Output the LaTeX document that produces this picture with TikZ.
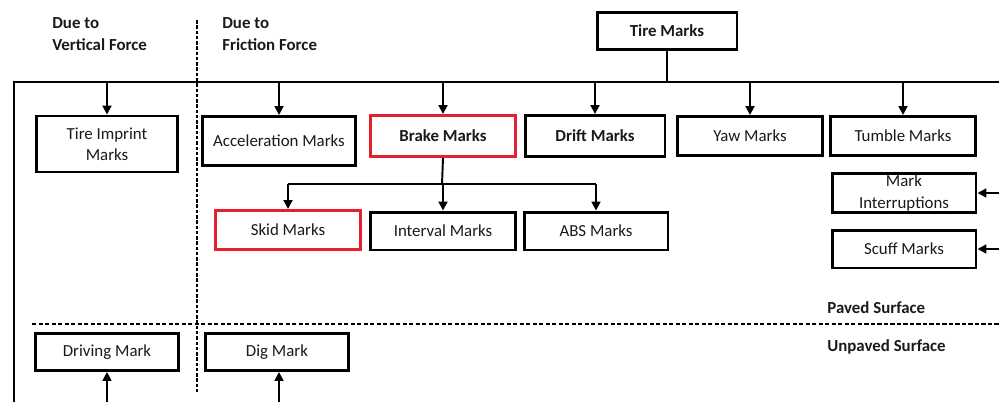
\documentclass[tikz,border=0pt]{standalone}
\usepackage{fontspec}
\setmainfont{Carlito}
\usepackage{tikz}
\usetikzlibrary{positioning, arrows.meta}
\definecolor{markRed}{HTML}{E3202B}
\definecolor{inkGray}{HTML}{1A1A1A}

\begin{document}
\begin{tikzpicture}[x=0.02cm, y=-0.02cm,
  font=\fontsize{9.6}{12}\selectfont, text=inkGray,
  markbox/.style={draw=black, line width=1.7pt, fill=white, inner sep=0pt,
    minimum width=2.88cm, minimum height=0.78cm, align=center},
  redbox/.style={markbox, draw=markRed},
  arr/.style={-{Triangle[length=5pt, width=5pt]}, line width=1.1pt},
  bus/.style={line width=1.1pt},
  sidenote/.style={anchor=west, inner sep=0pt, align=left, font=\fontsize{9.6}{12.5}\selectfont\bfseries}
]
\useasboundingbox (0,0) rectangle (999,402);

% column headings and dividers
\node[sidenote] (vert) at (52,34) {Due to\\Vertical Force};
\node[sidenote] (fric) at (222,34) {Due to\\Friction Force};
\draw[line width=0.8pt, dash pattern=on 2pt off 1pt] (197,20) -- (197,392);
\draw[line width=0.8pt, dash pattern=on 2.5pt off 1.2pt] (32,324) -- (999,324);
\node[sidenote] (paved) at (827,308) {Paved Surface};
\node[sidenote] (unpaved) at (827,347) {Unpaved Surface};

% top node and bus
\node[markbox, minimum width=2.8cm, minimum height=0.74cm, font=\fontsize{9.6}{12}\selectfont\bfseries] (tire) at (667,31) {Tire Marks};
\coordinate (busL) at (14,82);
\coordinate (busR) at (999,82);
\draw[bus] (14,402) -- (busL) -- (busR);
\draw[bus] (tire.south) -- (tire.south |- busL);

% first row
\node[markbox, minimum width=2.84cm, minimum height=1.12cm] (imprint) at (107,144) {Tire Imprint\\Marks};
\node[markbox, minimum width=3.06cm, minimum height=0.98cm] (accel) at (279,141) {Acceleration Marks};
\node[redbox, minimum width=2.9cm, minimum height=0.82cm, font=\fontsize{9.6}{12}\selectfont\bfseries] (brake) at (443,136) {Brake Marks};
\node[markbox, minimum width=2.8cm, minimum height=0.82cm, font=\fontsize{9.6}{12}\selectfont\bfseries] (drift) at (595,136) {Drift Marks};
\node[markbox, minimum width=2.9cm] (yaw) at (750,136) {Yaw Marks};
\node[markbox, minimum width=2.9cm] (tumble) at (903,136) {Tumble Marks};

\foreach \n in {imprint, accel, brake, drift, yaw, tumble}
  \draw[arr] (\n.north |- busL) -- (\n.north);

% brake marks children
\node[redbox, minimum width=2.92cm] (skid) at (288,230) {Skid Marks};
\node[markbox, minimum width=2.9cm, minimum height=0.76cm] (interval) at (443,231) {Interval Marks};
\node[markbox, minimum height=0.76cm] (abs) at (596,231) {ABS Marks};
\coordinate (split) at (442,184);
\draw[bus] (brake.south) -- (split);
\draw[bus] (skid.north |- split) -- (abs.north |- split);
\foreach \n in {skid, interval, abs}
  \draw[arr] (\n.north |- split) -- (\n.north);

% right column
\node[markbox] (interrupt) at (904,193) {Mark\\Interruptions};
\node[markbox, minimum height=0.76cm] (scuff) at (904,249) {Scuff Marks};
\coordinate (edgeA) at (999,193);
\coordinate (edgeB) at (999,249);
\draw[arr] (edgeA) -- (interrupt.east);
\draw[arr] (edgeB) -- (scuff.east);

% unpaved row
\node[markbox, minimum height=0.74cm] (driving) at (107,352) {Driving Mark};
\node[markbox, minimum height=0.74cm] (dig) at (277,352) {Dig Mark};
\coordinate (footA) at (107,402);
\coordinate (footB) at (279,402);
\draw[arr] (footA) -- (driving.south);
\draw[arr] (footB) -- (dig.south -| footB);

\end{tikzpicture}
\end{document}
